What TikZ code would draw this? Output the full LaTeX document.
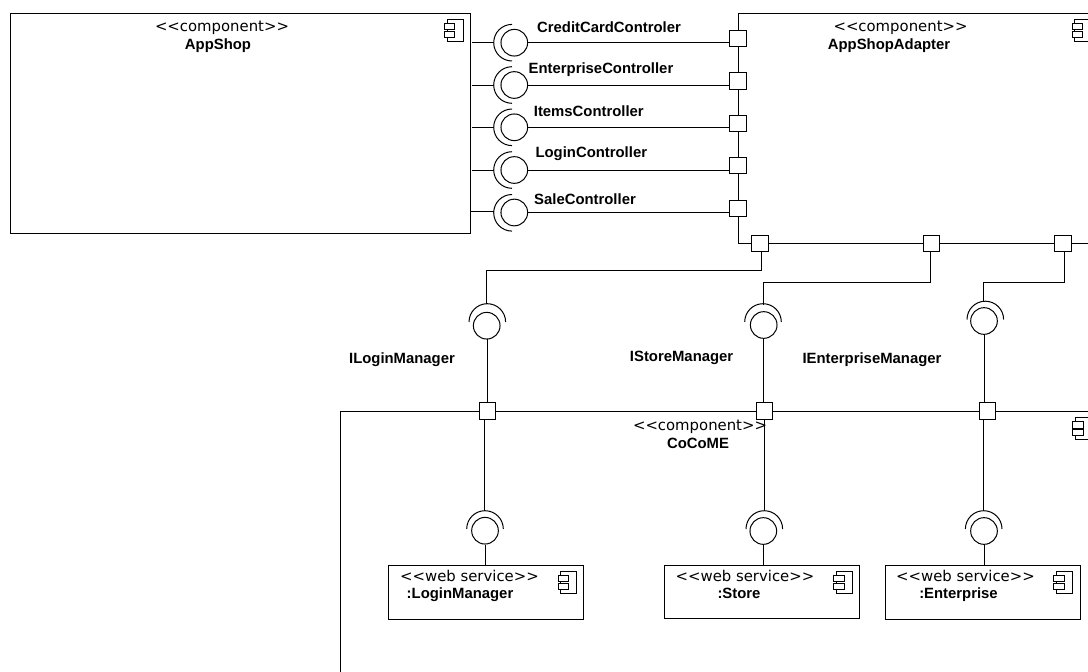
\documentclass[tikz,border=0pt]{standalone}
\usepackage{fontspec}
\setmainfont{Liberation Sans}
\newfontfamily\stereofont{DejaVu Sans}
\tikzset{
  comp/.style={draw=black,line width=0.75pt,fill=white,rectangle,inner sep=0pt},
  iconbox/.style={draw=black,line width=0.6pt,fill=white,rectangle,inner sep=0pt},
  port/.style={draw=black,line width=0.75pt,fill=white,rectangle,inner sep=0pt,minimum width=12.2pt,minimum height=12.2pt},
  ball/.style={draw=black,line width=0.75pt,fill=white,circle,inner sep=0pt,minimum size=20pt},
  conn/.style={draw=black,line width=0.75pt},
  sock/.style={draw=black,line width=0.75pt},
  stereo/.style={anchor=base,inner sep=0pt,font=\stereofont\fontsize{11.15pt}{13pt}\selectfont},
  lbl/.style={anchor=base,inner sep=0pt,font=\bfseries\fontsize{11.15pt}{13pt}\selectfont}
}
\newcommand{\compicon}[2]{%
  \node[iconbox,minimum width=12pt,minimum height=16.8pt] at (#1+10.5,#2+11.2) {};
  \node[iconbox,minimum width=7.6pt,minimum height=4.8pt] at (#1+5.2,#2+7.4) {};
  \node[iconbox,minimum width=7.6pt,minimum height=4.8pt] at (#1+5.2,#2+15.3) {};
}
\newcommand{\sockleft}[2]{\draw[sock] (#1,#2+18.3) arc[start angle=90,end angle=270,radius=18.3];}
\newcommand{\socktop}[2]{\draw[sock] (#1-18.3,#2) arc[start angle=180,end angle=360,radius=18.3];}
\begin{document}
\begin{tikzpicture}[x=0.75pt,y=-0.75pt]
\useasboundingbox (0,0) rectangle (1088,671);
\clip (0,0) rectangle (1088,671);
% component boxes
\node[comp,anchor=north west,minimum width=344.6pt,minimum height=165pt] (appshop) at (10.3,13) {};
\node[comp,anchor=north west,minimum width=300pt,minimum height=172.2pt] (adapter) at (737.8,13) {};
\node[comp,anchor=north west,minimum width=700pt,minimum height=300pt] (cocome) at (339.5,411) {};
\node[comp,anchor=north west,minimum width=146.2pt,minimum height=40.5pt] (wslogin) at (388.3,564.5) {};
\node[comp,anchor=north west,minimum width=146.2pt,minimum height=40pt] (wsstore) at (664,564.5) {};
\node[comp,anchor=north west,minimum width=146.2pt,minimum height=41.2pt] (wsent) at (884.7,564.5) {};
% component icons
\compicon{444.5}{19}
\compicon{1072}{19}
\compicon{1072.7}{417.3}
\compicon{558.3}{571}
\compicon{833.7}{571}
\compicon{1053.7}{571}
% ports, adapter left side
\node[port] (p1) at (738,38.5) {};
\node[port] (p2) at (738,81) {};
\node[port] (p3) at (738,123.3) {};
\node[port] (p4) at (738,165.7) {};
\node[port] (p5) at (738,208.3) {};
% ports, adapter bottom
\node[port] (q1) at (760,243.5) {};
\node[port] (q2) at (931.7,243.5) {};
\node[port] (q3) at (1063,243.5) {};
% ports, CoCoME top
\node[port] (r1) at (487.3,411) {};
\node[port] (r2) at (764.3,411) {};
\node[port] (r3) at (987.7,411) {};
% provided-required interfaces, top rows
\coordinate (l1) at (472,42.7);
\coordinate (l2) at (472,85);
\coordinate (l3) at (472,127.3);
\coordinate (l4) at (472,170);
\coordinate (l5) at (471,211);
\node[ball] (b1) at (514.3,42.7) {};
\node[ball] (b2) at (514.3,85) {};
\node[ball] (b3) at (514.3,127.3) {};
\node[ball] (b4) at (514.3,170) {};
\node[ball] (b5) at (514.3,212.5) {};
\sockleft{512}{42.7}
\sockleft{512}{85}
\sockleft{512}{127.3}
\sockleft{512}{170}
\sockleft{512}{212.8}
\draw[conn] (l1) -- (494,42.7);
\draw[conn] (l2) -- (494,85);
\draw[conn] (l3) -- (494,127.3);
\draw[conn] (l4) -- (494,170);
\draw[conn] (l5) -- (494,211);
\draw[conn] (b1.east) -- (b1.east -| p1.west);
\draw[conn] (b2.east) -- (b2.east -| p2.west);
\draw[conn] (b3.east) -- (b3.east -| p3.west);
\draw[conn] (b4.east) -- (b4.east -| p4.west);
\draw[conn] (b5.east) -- (b5.east -| p5.west);
% interfaces between adapter and CoCoME
\node[ball] (m1) at (486.7,325.7) {};
\node[ball] (m2) at (763.7,325) {};
\node[ball] (m3) at (984,321) {};
\socktop{487.3}{322}
\socktop{763}{322}
\socktop{985.3}{319.5}
\draw[conn] (761.7,251.6) |- (486,270) -- (486,304);
\draw[conn] (930,251.6) |- (763,282) -- (763,304.5);
\draw[conn] (1064.3,251.6) |- (983.3,282) -- (983.3,301.5);
\draw[conn] (m1.south) -- (m1.south -| r1.north) -- (r1.north);
\draw[conn] (m2.south) -- (r2.north -| m2.south);
\draw[conn] (m3.south) -- (r3.north -| m3.south);
% interfaces between CoCoME and web services
\node[ball] (s1) at (485,530.7) {};
\node[ball] (s2) at (763.3,531) {};
\node[ball] (s3) at (984,531) {};
\socktop{485}{529}
\socktop{764.3}{529}
\socktop{983.7}{529}
\draw[conn] (484.7,419.4) -- (484.7,511);
\draw[conn] (764.3,419.4) -- (764.3,511);
\draw[conn] (983.3,419.4) -- (983.3,511);
\draw[conn] (s1.south) -- (s1.south |- wslogin.north);
\draw[conn] (s2.south) -- (s2.south |- wsstore.north);
\draw[conn] (s3.south) -- (s3.south |- wsent.north);
% texts
\node[stereo] (t1) at (222,31.7) {<{}<component>{}>};
\node[lbl] (t2) at (218,49.3) {AppShop};
\node[stereo] (t3) at (900.5,31.7) {<{}<component>{}>};
\node[lbl] (t4) at (889,49.3) {AppShopAdapter};
\node[stereo] (t5) at (700,430) {<{}<component>{}>};
\node[lbl] (t6) at (698,448.3) {CoCoME};
\node[stereo] (t7) at (469.5,581.3) {<{}<web service>{}>};
\node[lbl] (t8) at (460,598) {:LoginManager};
\node[stereo] (t9) at (745,581.3) {<{}<web service>{}>};
\node[lbl] (t10) at (739,598) {:Store};
\node[stereo] (t11) at (965.5,581.3) {<{}<web service>{}>};
\node[lbl] (t12) at (958.5,598) {:Enterprise};
\node[lbl] at (609,32.3) {CreditCardControler};
\node[lbl] at (601,73.3) {EnterpriseController};
\node[lbl] at (588.8,116.7) {ItemsController};
\node[lbl] at (591.3,157.3) {LoginController};
\node[lbl] at (585,204) {SaleController};
\node[lbl] at (402,363.3) {ILoginManager};
\node[lbl] at (681.6,361.7) {IStoreManager};
\node[lbl] at (872,363.3) {IEnterpriseManager};
\end{tikzpicture}
\end{document}
